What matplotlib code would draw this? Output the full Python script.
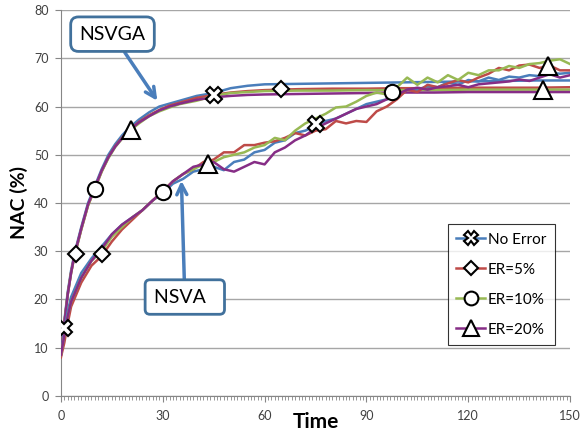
import numpy as np
import matplotlib.pyplot as plt
from matplotlib.lines import Line2D

plt.rcParams['font.family'] = ['Lato', 'DejaVu Sans']

# time grids
t_ga = [0, 1, 2, 3, 4, 6, 8, 10, 12, 14, 16, 18, 20, 23, 26, 29, 32, 35, 40, 45,
        50, 55, 60, 70, 80, 90, 100, 110, 120, 130, 140, 150]
t_va = [0, 1, 2] + list(range(3, 151, 3))

# NSVGA curves (No Error, ER=5%, ER=10%, ER=20%)
ga_none = [9, 15.5, 21.5, 26, 29.5, 35, 40, 43.5, 47, 50, 52.2, 54, 55.5, 57.3, 58.8, 60,
           60.6, 61.2, 62.2, 62.8, 63.8, 64.3, 64.6, 64.7, 64.8, 64.9, 65, 65.1, 65.2, 65.3, 65.4, 65.4]
ga_er5 = [8.5, 15, 21, 25.5, 29, 34.5, 39.5, 43, 46.5, 49.5, 51.8, 53.5, 55, 56.8, 58.2, 59.3,
          60.2, 60.8, 61.8, 62.4, 62.9, 63.2, 63.4, 63.6, 63.7, 63.7, 63.8, 63.8, 63.9, 63.9, 63.9, 64]
ga_er10 = [8.5, 15, 21, 25.5, 29, 34.5, 39.5, 43, 46.5, 49.3, 51.6, 53.3, 54.8, 56.5, 58, 59,
           59.8, 60.5, 61.2, 62.2, 62.8, 63, 63.2, 63.3, 63.3, 63.4, 63.4, 63.4, 63.5, 63.5, 63.5, 63.5]
ga_er20 = [8.5, 15, 21, 25.5, 29.2, 34.7, 39.7, 43.2, 46.7, 49.5, 51.7, 53.4, 55, 56.7, 58, 59.2,
           60, 60.6, 61.4, 61.9, 62.2, 62.4, 62.5, 62.6, 62.7, 62.8, 62.9, 62.9, 63, 63, 63, 63]

# NSVA curves
va_none = [8.5, 13.5, 17.5, 20.5, 25.5, 28.5, 31, 33.5, 35.5, 37, 38.5, 40.5, 42, 44, 45, 46.5,
           47, 47.5, 46.8, 48.5, 49, 50.5, 51, 52.5, 53, 54.5, 55, 56, 57, 57.5, 58.5, 59.5,
           60.5, 61, 61.5, 62, 63.5, 63.5, 64.2, 64, 65, 64.5, 65.5, 65.2, 66, 65.5, 66.2, 66,
           66.5, 66.3, 67, 66.8, 67]
va_er5 = [8, 11, 15, 18.5, 23.5, 27, 29, 32, 34.5, 36.5, 38.5, 40.5, 42.5, 44.5, 46, 47,
          48.5, 49, 50.5, 50.5, 52, 52, 52.5, 52.8, 53.5, 54.5, 54, 55, 55.3, 57, 56.5, 57,
          56.8, 59, 60, 61.5, 63.5, 63, 64.5, 64, 64.8, 65.5, 65, 66, 66.8, 68, 67.5, 68.5,
          68.7, 68, 68.5, 67.5, 67.5]
va_er10 = [8.5, 12.5, 16.5, 19.5, 24.5, 28, 30, 33, 35, 37, 38.5, 40.5, 42.3, 44.5, 46, 47,
           48, 48.5, 49.5, 50, 50.5, 51.5, 52, 53.5, 53, 55, 56.5, 57.5, 58.5, 59.8, 60, 61,
           62.2, 62.9, 62.5, 64, 66, 64.5, 66, 65, 66.5, 65.5, 67, 66.5, 67.5, 67.5, 68.4, 68,
           68.8, 69, 69.5, 69.8, 68.8]
va_er20 = [8.5, 12.5, 16.5, 19.5, 24.5, 28, 30.5, 33.5, 35.5, 37, 38.5, 40.5, 42.3, 44.5, 46, 47.5,
           48, 48.5, 47, 46.5, 47.5, 48.5, 48, 50.5, 51.5, 53, 54, 55.5, 56.5, 57.5, 58.5, 59.5,
           60, 60.5, 61.5, 62.5, 63.5, 63.9, 63.5, 64, 64.2, 64.5, 64, 64.6, 64.8, 65, 65.2, 65.6,
           65.3, 66, 66.7, 66, 66.5]

# marker points
cross_t, cross_v = [1, 45, 75], [14, 62.3, 56.3]
diam_t, diam_v = [4.4, 12.2, 64.7], [29.5, 29.5, 63.7]
circ_t, circ_v = [10, 30, 97.5], [42.9, 42.2, 63.1]
tri_t, tri_v = [20.7, 43.2, 143.4, 142], [55.1, 48.1, 68.4, 63.4]

labels = ['No Error', 'ER=5%', 'ER=10%', 'ER=20%']
colors = ['#4a7ebb', '#be4b48', '#98b954', '#862d86']
markers = ['X', 'D', 'o', '^']
msizes = [11, 8, 11, 13]

fig = plt.figure(figsize=(5.8, 4.37), dpi=100)
ax = fig.add_axes([0.105, 0.094, 0.878, 0.883])

for ys, c in zip([ga_none, ga_er5, ga_er10, ga_er20], colors):
    ax.plot(t_ga, ys, color=c, lw=1.8, zorder=3)
for ys, c in zip([va_none, va_er5, va_er10, va_er20], colors):
    ax.plot(t_va, ys, color=c, lw=1.8, zorder=3)

pts = [(cross_t, cross_v), (diam_t, diam_v), (circ_t, circ_v), (tri_t, tri_v)]
for (tt, vv), m, ms in zip(pts, markers, msizes):
    ax.plot(tt, vv, ls='none', marker=m, ms=ms, mfc='white', mec='black', mew=1.5, zorder=5)

ax.set_xlim(0, 150)
ax.set_ylim(0, 80)
ax.set_xticks(range(0, 151, 30))
ax.set_xticks(range(0, 151, 1), minor=True)
ax.set_yticks(range(0, 81, 10))
ax.tick_params(axis='x', which='major', length=4, color='#868686', labelsize=9, labelcolor='#404040', pad=6)
ax.tick_params(axis='x', which='minor', length=3, color='#868686')
ax.tick_params(axis='y', length=4, color='#868686', labelsize=9, labelcolor='#404040', pad=5)
ax.grid(axis='y', color='#a6a6a6', lw=1)
ax.set_axisbelow(True)
for s in ['top', 'right']:
    ax.spines[s].set_visible(False)
for s in ['left', 'bottom']:
    ax.spines[s].set_color('#868686')

ax.set_ylabel('NAC (%)', fontsize=14, fontweight='bold', labelpad=4)
fig.text(0.545, 0.012, 'Time', fontsize=15, fontweight='bold', ha='center', va='bottom')

box = dict(boxstyle='round,pad=0.45,rounding_size=0.4', fc='white', ec='#41719c', lw=2)
box2 = dict(boxstyle='round,pad=0.45,rounding_size=0.25', fc='white', ec='#41719c', lw=2)
arrow = dict(arrowstyle='->', color='#4a7ebb', lw=2.5, mutation_scale=18, shrinkA=0, shrinkB=0)
ax.annotate('NSVGA', xy=(28.4, 61.2), xytext=(15.2, 75), fontsize=14, ha='center', va='center',
            bbox=box, arrowprops=arrow, zorder=6)
ax.annotate('NSVA  ', xy=(35.5, 44.6), xytext=(36.5, 20.5), fontsize=14, ha='center', va='center',
            bbox=box2, arrowprops=arrow, zorder=6)

handles = [Line2D([], [], color=c, lw=1.8, marker=m, ms=ms * 0.9, mfc='white', mec='black', mew=1.5)
           for c, m, ms in zip(colors, markers, msizes)]
leg = ax.legend(handles, labels, loc='lower right', bbox_to_anchor=(0.985, 0.112), fontsize=11,
                frameon=True, fancybox=False, edgecolor='black', handlelength=1.9,
                handletextpad=0.2, labelspacing=1.05, borderpad=0.55)
leg.get_frame().set_linewidth(0.8)

fig.savefig('out.png', dpi=100)
